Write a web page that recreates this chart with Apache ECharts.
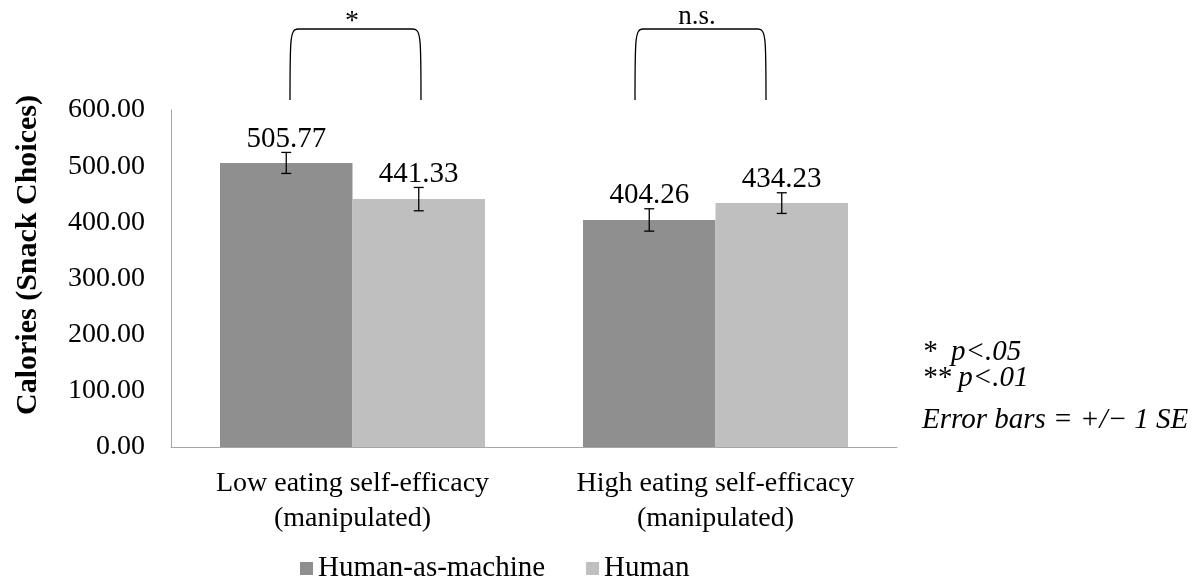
<!DOCTYPE html>
<html>
<head>
<meta charset="utf-8">
<script src="https://cdn.jsdelivr.net/npm/echarts@6/dist/echarts.min.js"></script>
<style>
html,body{margin:0;padding:0;background:#fff;}
#chart{width:1199px;height:583px;}
</style>
</head>
<body>
<div id="chart"></div>
<script>
var categories = ['Low eating self-efficacy\n(manipulated)', 'High eating self-efficacy\n(manipulated)'];
var seriesNames = ['Human-as-machine', 'Human'];
var machineValues = [505.77, 404.26];
var humanValues = [441.33, 434.23];
var machineSE = [18.7, 19.9];
var humanSE = [20.8, 18.4];
var yTicks = [0, 100, 200, 300, 400, 500, 600];
var yAxisTitle = 'Calories (Snack Choices)';
var notes = ['*  p<.05', '** p<.01', 'Error bars = +/\u2212 1 SE'];
var bracketLabels = ['*', 'n.s.'];

var FONT = '"Liberation Serif", "Times New Roman", serif';
var DARK = '#8f8f8f';
var LIGHT = '#bfbfbf';
var GAP = 0.27;

function errorSeries(values, ses, side) {
  return {
    type: 'custom',
    silent: true,
    z: 10,
    data: values.map(function (v, i) { return [i, v, ses[i]]; }),
    renderItem: function (params, api) {
      var idx = api.value(0);
      var v = api.value(1);
      var se = api.value(2);
      var band = api.size([1, 0])[0];
      var bw = band * (1 - GAP) / 2;
      var c = api.coord([idx, v]);
      var x = c[0] + side * bw / 2;
      var top = api.coord([idx, v + se])[1];
      var bot = api.coord([idx, v - se])[1];
      var cap = 5;
      var st = { stroke: '#000', lineWidth: 1.3 };
      return {
        type: 'group',
        children: [
          { type: 'line', shape: { x1: x, y1: top, x2: x, y2: bot }, style: st },
          { type: 'line', shape: { x1: x - cap, y1: top, x2: x + cap, y2: top }, style: st },
          { type: 'line', shape: { x1: x - cap, y1: bot, x2: x + cap, y2: bot }, style: st },
          { type: 'text', style: { text: v.toFixed(2), x: x, y: top + 1, align: 'center', verticalAlign: 'bottom', font: '29px ' + FONT, fill: '#000' } }
        ]
      };
    }
  };
}

function bracket(x1, x2, yTop, yBot) {
  var st = { stroke: '#000', lineWidth: 1.3, fill: null };
  return [
    { type: 'bezierCurve', shape: { x1: x1, y1: yBot, cpx1: x1, cpy1: yTop + 10, cpx2: x1, cpy2: yTop, x2: x1 + 8, y2: yTop }, style: st },
    { type: 'line', shape: { x1: x1 + 8, y1: yTop, x2: x2 - 8, y2: yTop }, style: st },
    { type: 'bezierCurve', shape: { x1: x2 - 8, y1: yTop, cpx1: x2, cpy1: yTop, cpx2: x2, cpy2: yTop + 10, x2: x2, y2: yBot }, style: st }
  ];
}

function txt(text, x, y, font, align) {
  return { type: 'text', x: x, y: y, style: { text: text, font: font, fill: '#000', align: align || 'left', verticalAlign: 'middle' } };
}

var graphics = [].concat(
  bracket(290, 421, 29, 100),
  bracket(635, 766, 29, 100),
  [
    txt(bracketLabels[0], 352, 22, '28px ' + FONT, 'center'),
    txt(bracketLabels[1], 697, 17, '27px ' + FONT, 'center'),
    txt(notes[0], 922, 352, 'italic 29px ' + FONT),
    txt(notes[1], 922, 378, 'italic 29px ' + FONT),
    txt(notes[2], 922, 420, 'italic 29px ' + FONT),
    { type: 'text', x: 28, y: 255, rotation: Math.PI / 2,
      style: { text: yAxisTitle, font: 'bold 30px ' + FONT, fill: '#000', align: 'center', verticalAlign: 'middle' } }
  ]
);

var chart = echarts.init(document.getElementById('chart'));
chart.setOption({
  animation: false,
  backgroundColor: '#fff',
  grid: { left: 171, right: 302, top: 110, bottom: 136, containLabel: false },
  legend: {
    data: seriesNames,
    top: 549,
    left: 295,
    icon: 'rect',
    itemWidth: 13,
    itemHeight: 13,
    itemGap: 41,
    textStyle: { fontFamily: FONT, fontSize: 29, color: '#000' }
  },
  xAxis: {
    type: 'category',
    data: categories,
    axisLine: { lineStyle: { color: '#a6a6a6', width: 1 } },
    axisTick: { show: false },
    axisLabel: { fontFamily: FONT, fontSize: 28, color: '#000', lineHeight: 35, margin: 19 }
  },
  yAxis: {
    type: 'value',
    min: 0,
    max: 600,
    interval: 100,
    axisLine: { show: true, lineStyle: { color: '#a6a6a6', width: 1 } },
    axisTick: { show: false },
    splitLine: { show: false },
    axisLabel: {
      fontFamily: FONT, fontSize: 28, color: '#000', margin: 26,
      formatter: function (v) { return yTicks.indexOf(v) >= 0 ? v.toFixed(2) : ''; }
    }
  },
  series: [
    { name: seriesNames[0], type: 'bar', data: machineValues, barGap: '0%', barCategoryGap: '27%', itemStyle: { color: DARK } },
    { name: seriesNames[1], type: 'bar', data: humanValues, barGap: '0%', barCategoryGap: '27%', itemStyle: { color: LIGHT } },
    errorSeries(machineValues, machineSE, -1),
    errorSeries(humanValues, humanSE, 1)
  ],
  graphic: graphics
});
</script>
</body>
</html>
